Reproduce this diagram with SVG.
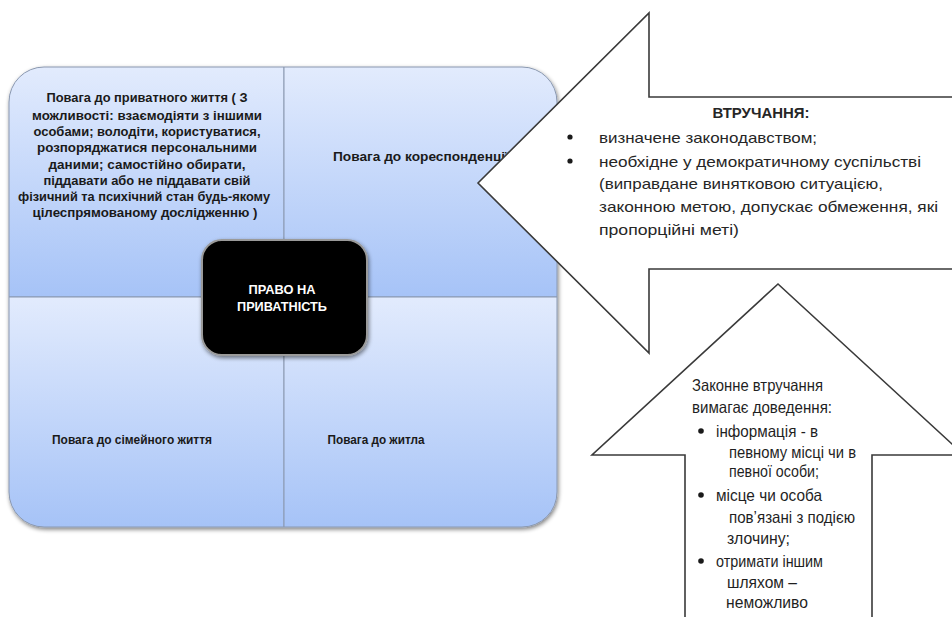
<svg xmlns="http://www.w3.org/2000/svg" width="952" height="617" viewBox="0 0 952 617">
<style>
.q{font-family:"Liberation Sans",Arial,sans-serif;font-weight:bold;font-size:12px;fill:#1a1a1a;text-anchor:middle}
.c{font-family:"Liberation Sans",Arial,sans-serif;font-weight:bold;font-size:12.5px;fill:#ffffff;text-anchor:middle}
.a{font-family:"Liberation Sans",Arial,sans-serif;font-size:14.5px;fill:#262626}
.b{font-family:"Liberation Sans",Arial,sans-serif;font-size:16.5px;fill:#1f1f1f}
.arrow{fill:#ffffff;stroke:#3a3a3a;stroke-width:1.6;stroke-linejoin:miter}
</style>
<defs>
<linearGradient id="g" x1="0" y1="0" x2="0" y2="1">
<stop offset="0" stop-color="#e2ebfd"/>
<stop offset="1" stop-color="#a6c3f7"/>
</linearGradient>
<filter id="sh" x="-10%" y="-10%" width="120%" height="120%">
<feGaussianBlur in="SourceAlpha" stdDeviation="2"/>
<feOffset dx="1" dy="2"/>
<feComponentTransfer><feFuncA type="linear" slope="0.5"/></feComponentTransfer>
<feMerge><feMergeNode/><feMergeNode in="SourceGraphic"/></feMerge>
</filter>
</defs>

<g id="matrix" filter="url(#sh)">
<path d="M9,102 A35,35 0 0 1 44,67 L284,67 L284,297 L9,297 Z" fill="url(#g)" stroke="#8a98b0" stroke-width="1"/>
<path d="M284,67 L522,67 A35,35 0 0 1 557,102 L557,297 L284,297 Z" fill="url(#g)" stroke="#8a98b0" stroke-width="1"/>
<path d="M9,297 L284,297 L284,527 L44,527 A35,35 0 0 1 9,492 Z" fill="url(#g)" stroke="#8a98b0" stroke-width="1"/>
<path d="M284,297 L557,297 L557,492 A35,35 0 0 1 522,527 L284,527 Z" fill="url(#g)" stroke="#8a98b0" stroke-width="1"/>
</g>

<g id="q1">
<text class="q" x="147" y="102" textLength="201" lengthAdjust="spacingAndGlyphs">Повага до приватного життя ( З</text>
<text class="q" x="147" y="120" textLength="230" lengthAdjust="spacingAndGlyphs">можливості: взаємодіяти з іншими</text>
<text class="q" x="147" y="136" textLength="227" lengthAdjust="spacingAndGlyphs">особами; володіти, користуватися,</text>
<text class="q" x="147" y="152" textLength="220" lengthAdjust="spacingAndGlyphs">розпоряджатися персональними</text>
<text class="q" x="147" y="169" textLength="197" lengthAdjust="spacingAndGlyphs">даними; самостійно обирати,</text>
<text class="q" x="147" y="185" textLength="207" lengthAdjust="spacingAndGlyphs">піддавати або не піддавати свій</text>
<text class="q" x="144" y="201" textLength="252" lengthAdjust="spacingAndGlyphs">фізичний та психічний стан будь-якому</text>
<text class="q" x="145" y="217" textLength="225" lengthAdjust="spacingAndGlyphs">цілеспрямованому дослідженню )</text>
</g>
<g id="q2">
<text class="q" x="333" y="161" style="text-anchor:start" textLength="176" lengthAdjust="spacingAndGlyphs">Повага до кореспонденції</text>
</g>
<g id="q3">
<text class="q" x="132" y="444" textLength="160" lengthAdjust="spacingAndGlyphs">Повага до сімейного життя</text>
</g>
<g id="q4">
<text class="q" x="376" y="444" textLength="97" lengthAdjust="spacingAndGlyphs">Повага до житла</text>
</g>

<g id="center">
<rect x="202" y="240" width="165" height="115" rx="20" ry="20" fill="#000000" stroke="#9a9a9a" stroke-width="2" filter="url(#sh)"/>
<text class="c" x="282" y="294" textLength="67" lengthAdjust="spacingAndGlyphs">ПРАВО НА</text>
<text class="c" x="282" y="311" textLength="90" lengthAdjust="spacingAndGlyphs">ПРИВАТНІСТЬ</text>
</g>

<g id="arrow-left">
<polygon class="arrow" points="478,183 649,13 649,97 960,97 960,269 649,269 649,353"/>
<text class="a" x="761" y="118" style="font-weight:bold;text-anchor:middle" textLength="97" lengthAdjust="spacingAndGlyphs">ВТРУЧАННЯ:</text>
<circle cx="570" cy="137" r="2.6" fill="#1a1a1a"/>
<circle cx="570" cy="161" r="2.6" fill="#1a1a1a"/>
<text class="a" x="599" y="143" textLength="218" lengthAdjust="spacingAndGlyphs">визначене законодавством;</text>
<text class="a" x="599" y="167" textLength="322" lengthAdjust="spacingAndGlyphs">необхідне у демократичному суспільстві</text>
<text class="a" x="599" y="189" textLength="284" lengthAdjust="spacingAndGlyphs">(виправдане винятковою ситуацією,</text>
<text class="a" x="599" y="212" textLength="339" lengthAdjust="spacingAndGlyphs">законною метою, допускає обмеження, які</text>
<text class="a" x="599" y="235" textLength="140" lengthAdjust="spacingAndGlyphs">пропорційні меті)</text>
</g>

<g id="arrow-up">
<polygon class="arrow" points="778,284 964,455 872,455 872,630 685,630 685,455 592,455"/>
<text class="b" x="692" y="391" textLength="131" lengthAdjust="spacingAndGlyphs">Законне втручання</text>
<text class="b" x="692" y="413" textLength="140" lengthAdjust="spacingAndGlyphs">вимагає доведення:</text>
<circle cx="701" cy="431" r="2.8" fill="#1a1a1a"/>
<text class="b" x="716" y="437" textLength="102" lengthAdjust="spacingAndGlyphs">інформація  - в</text>
<text class="b" x="729" y="458" textLength="127" lengthAdjust="spacingAndGlyphs">певному місці чи в</text>
<text class="b" x="729" y="477" textLength="90" lengthAdjust="spacingAndGlyphs">певної особи;</text>
<circle cx="701" cy="495" r="2.8" fill="#1a1a1a"/>
<text class="b" x="716" y="501" textLength="106" lengthAdjust="spacingAndGlyphs">місце  чи особа</text>
<text class="b" x="729" y="523" textLength="126" lengthAdjust="spacingAndGlyphs">пов’язані з подією</text>
<text class="b" x="727" y="544" textLength="63" lengthAdjust="spacingAndGlyphs">злочину;</text>
<circle cx="701" cy="561" r="2.8" fill="#1a1a1a"/>
<text class="b" x="716" y="567" textLength="107" lengthAdjust="spacingAndGlyphs">отримати іншим</text>
<text class="b" x="727" y="588" textLength="70" lengthAdjust="spacingAndGlyphs">шляхом –</text>
<text class="b" x="726" y="608" textLength="82" lengthAdjust="spacingAndGlyphs">неможливо</text>
</g>
</svg>
